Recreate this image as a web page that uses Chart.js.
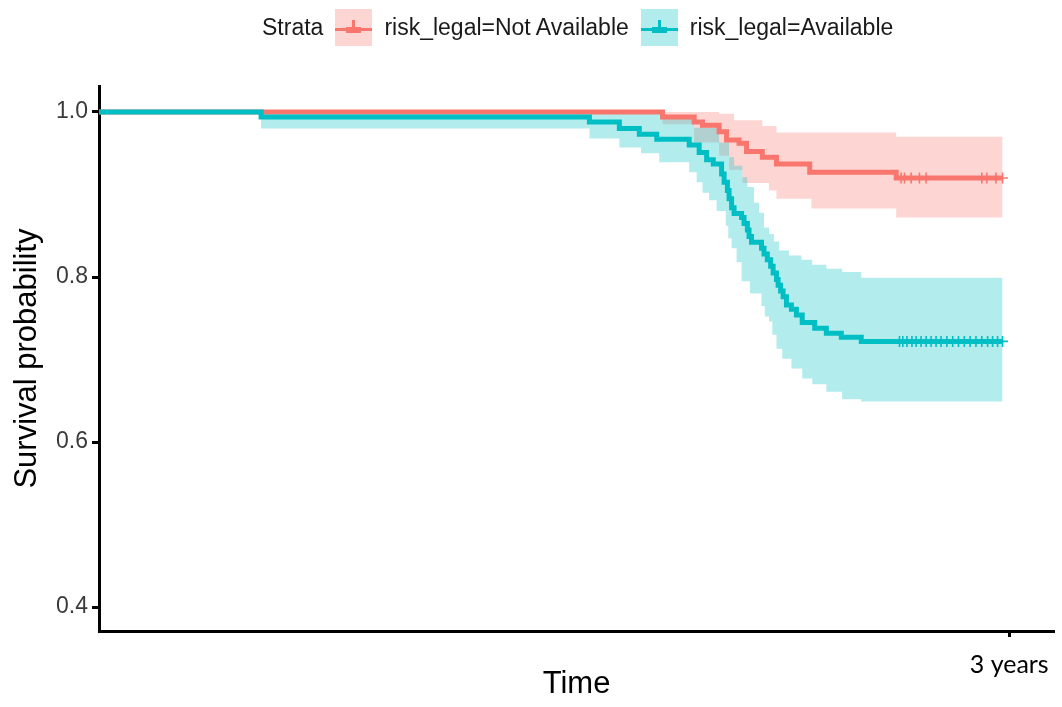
<!DOCTYPE html>
<html>
<head>
<meta charset="utf-8">
<script src="https://cdn.jsdelivr.net/npm/chart.js@4"></script>
<style>
  html, body { margin: 0; padding: 0; background: #fff; }
  #wrap { position: relative; width: 1062px; height: 707px; }
  #legend { position: absolute; top: 9px; left: 262px; height: 37px; display: flex; align-items: center;
            font-family: "Liberation Sans", Arial, sans-serif; font-size: 23px; color: #1a1a1a; white-space: nowrap; }
  .key { position: relative; width: 37px; height: 37px; margin: 0 12px 0 12px; }
  .key .ln { position: absolute; left: 0; right: 0; top: 19px; height: 3px; }
  .key .blk { position: absolute; left: 11px; width: 15px; top: 18px; height: 6px; }
  .key .tk { position: absolute; left: 17px; width: 3px; top: 11px; height: 9px; }
</style>
</head>
<body>
<div id="wrap">
  <canvas id="c" width="1062" height="707"></canvas>
  <div id="legend">
    <span>Strata</span>
    <span class="key" style="background:rgba(248,118,109,0.3)"><span class="ln" style="background:#F8766D"></span><span class="blk" style="background:#F8766D"></span><span class="tk" style="background:#F8766D"></span></span>
    <span>risk_legal=Not Available</span>
    <span class="key" style="background:rgba(0,191,196,0.3)"><span class="ln" style="background:#00BFC4"></span><span class="blk" style="background:#00BFC4"></span><span class="tk" style="background:#00BFC4"></span></span>
    <span>risk_legal=Available</span>
  </div>
</div>
<script>
// ---- Data (time in days) ----
const strataNames = ["risk_legal=Not Available", "risk_legal=Available"];

// Not Available (red)
const naTime  = [0, 678, 716, 726, 746, 755, 770, 779, 798, 815, 855, 959, 1087];
const naSurv  = [1.0, 0.994, 0.988, 0.984, 0.976, 0.966, 0.962, 0.952, 0.945, 0.937, 0.927, 0.920, 0.920];
const naUpT   = [0, 746, 764, 798, 815, 959, 1087];
const naUpper = [1.0, 0.998, 0.990, 0.983, 0.975, 0.970, 0.970];
const naLoT   = [0, 678, 716, 746, 758, 774, 806, 815, 857, 959, 1087];
const naLower = [1.0, 0.985, 0.963, 0.947, 0.930, 0.914, 0.905, 0.895, 0.883, 0.872, 0.872];
const naCensorT = [965, 969, 977, 987, 995, 1062, 1068, 1079, 1087];

// Available (teal)
const avTime = [0, 195, 590, 626, 650, 671, 710, 722, 731, 739, 749, 752, 756, 758, 761, 764, 773, 776, 780, 782, 785, 797, 800, 804, 808, 811, 815, 817, 820, 823, 827, 833, 839, 846, 861, 875, 893, 917, 1087];
const avSurv = [1.0, 0.994, 0.988, 0.980, 0.973, 0.967, 0.960, 0.951, 0.942, 0.937, 0.925, 0.915, 0.905, 0.895, 0.884, 0.877, 0.872, 0.865, 0.857, 0.849, 0.842, 0.835, 0.828, 0.821, 0.813, 0.805, 0.797, 0.790, 0.783, 0.776, 0.766, 0.761, 0.754, 0.745, 0.738, 0.732, 0.727, 0.722, 0.722];
const avUpT   = [0, 678, 716, 746, 758, 764, 774, 780, 788, 794, 800, 806, 812, 818, 830, 845, 858, 875, 894, 917, 1087];
const avUpper = [1.0, 0.996, 0.981, 0.963, 0.945, 0.935, 0.921, 0.909, 0.890, 0.878, 0.860, 0.852, 0.843, 0.832, 0.826, 0.821, 0.815, 0.810, 0.806, 0.799, 0.799];
const avLoT   = [0, 195, 590, 626, 652, 674, 710, 719, 726, 734, 743, 754, 757, 761, 767, 773, 783, 797, 801, 806, 810, 815, 822, 833, 846, 858, 875, 894, 917, 1087];
const avLower = [1.0, 0.980, 0.968, 0.957, 0.950, 0.939, 0.927, 0.915, 0.902, 0.893, 0.880, 0.862, 0.847, 0.835, 0.818, 0.795, 0.780, 0.765, 0.752, 0.746, 0.730, 0.713, 0.701, 0.689, 0.677, 0.670, 0.661, 0.652, 0.649, 0.649];
const avCensorT = [963, 967, 972, 978, 983, 989, 995, 1001, 1007, 1013, 1020, 1027, 1034, 1041, 1048, 1055, 1062, 1069, 1075, 1081, 1087];

// Axis ticks
const yTickValues = [0.4, 0.6, 0.8, 1.0];
const yTickLabels = ["0.4", "0.6", "0.8", "1.0"];
const xTickValues = [1095];
const xTickLabels = ["3 years"];

const RED = "#F8766D", TEAL = "#00BFC4";
const RED_F = "rgba(248,118,109,0.3)", TEAL_F = "rgba(0,191,196,0.3)";

const pts = (t, v) => t.map((x, i) => ({x: x, y: v[i]}));
const lastVal = (t, v, x) => { let r = v[0]; for (let i = 0; i < t.length; i++) if (t[i] <= x) r = v[i]; return r; };
const censorPts = (ct, t, v) => ct.map(x => ({x: x, y: lastVal(t, v, x)}));

const stepLine = (label, data, color, width) => ({
  label, data, borderColor: color, borderWidth: width, stepped: 'before',
  pointRadius: 0, pointHoverRadius: 0, fill: false, tension: 0
});
const band = (label, data, fill, color) => ({
  label, data, borderWidth: 0, borderColor: 'rgba(0,0,0,0)', backgroundColor: color, stepped: 'before',
  pointRadius: 0, pointHoverRadius: 0, fill: fill, tension: 0
});
const censor = (label, data, color) => ({
  label, data, showLine: false, pointStyle: 'cross', pointRadius: 5.5, pointHoverRadius: 5.5,
  pointBorderWidth: 1.6, borderColor: color, backgroundColor: color
});

new Chart(document.getElementById('c'), {
  type: 'line',
  data: {
    datasets: [
      censor(strataNames[1] + " censor", censorPts(avCensorT, avTime, avSurv), TEAL),
      stepLine(strataNames[1], pts(avTime, avSurv), TEAL, 5),
      censor(strataNames[0] + " censor", censorPts(naCensorT, naTime, naSurv), RED),
      stepLine(strataNames[0], pts(naTime, naSurv), RED, 5),
      band("av upper", pts(avUpT, avUpper), '+1', TEAL_F),
      band("av lower", pts(avLoT, avLower), false, TEAL_F),
      band("na upper", pts(naUpT, naUpper), '+1', RED_F),
      band("na lower", pts(naLoT, naLower), false, RED_F)
    ]
  },
  options: {
    responsive: false,
    animation: false,
    layout: { padding: { top: 86, right: 7, left: 0, bottom: 4 } },
    plugins: {
      legend: { display: false },
      tooltip: { enabled: false },
      filler: { drawTime: 'beforeDatasetsDraw', propagate: false }
    },
    scales: {
      x: {
        type: 'linear', min: 0, max: 1149,
        afterFit: s => { s.height = 707 - 631 - 4; },
        afterBuildTicks: s => { s.ticks = xTickValues.map(v => ({value: v})); },
        ticks: {
          autoSkip: false, maxRotation: 0, padding: 13,
          callback: (v) => { const i = xTickValues.indexOf(v); return i >= 0 ? xTickLabels[i] : ''; },
          font: { family: "Lato, 'Open Sans', sans-serif", size: 25 }, color: '#000'
        },
        grid: { display: true, drawOnChartArea: false, drawTicks: true, tickLength: 6, tickWidth: 3, tickColor: '#000' },
        border: { display: true, color: '#000', width: 3 },
        title: { display: true, text: 'Time', font: { family: "'Liberation Sans', Arial, sans-serif", size: 31 }, color: '#000', padding: { top: 0, bottom: 0 } }
      },
      y: {
        type: 'linear', min: 0.371, max: 1.0315,
        afterFit: s => { s.width = 99; },
        afterBuildTicks: s => { s.ticks = yTickValues.map(v => ({value: v})); },
        ticks: {
          autoSkip: false, padding: 4,
          callback: (v) => { const i = yTickValues.findIndex(t => Math.abs(t - v) < 1e-9); return i >= 0 ? yTickLabels[i] : ''; },
          font: { family: "'Liberation Sans', Arial, sans-serif", size: 23 }, color: '#3a3a3a'
        },
        grid: { display: true, drawOnChartArea: false, drawTicks: true, tickLength: 7, tickWidth: 3, tickColor: '#000' },
        border: { display: true, color: '#000', width: 3 },
        title: { display: true, text: 'Survival probability', font: { family: "'Liberation Sans', Arial, sans-serif", size: 31 }, color: '#000', padding: { top: 9, bottom: 0 } }
      }
    }
  }
});
</script>
</body>
</html>
